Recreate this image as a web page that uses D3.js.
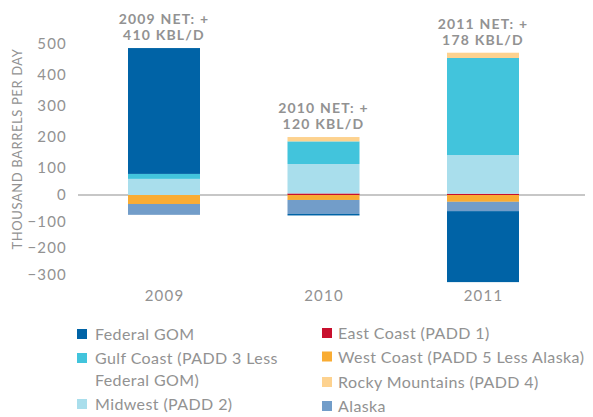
<!DOCTYPE html>
<html>
<head>
<meta charset="utf-8">
<script src="https://cdn.jsdelivr.net/npm/d3@7"></script>
<style>
  html, body { margin: 0; padding: 0; background: #fff; }
  svg { display: block; font-family: Lato, "Open Sans", sans-serif; }
</style>
</head>
<body>
<svg id="chart" width="593" height="417"></svg>
<script>
// ---- data ----
const years = ["2009", "2010", "2011"];
const seriesNames = [
  "East Coast (PADD 1)",
  "West Coast (PADD 5 Less Alaska)",
  "Midwest (PADD 2)",
  "Alaska",
  "Gulf Coast (PADD 3 Less Federal GOM)",
  "Federal GOM",
  "Rocky Mountains (PADD 4)"
];
const eastCoast = [0, 5, 4];
const westCoast = [-29, -16, -22];
const midwest = [52, 95, 125];
const alaska = [-35, -45, -30];
const gulfCoast = [16, 73, 313];
const federalGOM = [406, -5, -229];
const rockyMountains = [0, 14, 17];
const netLabels = [["2009 NET: +", "410 KBL/D"], ["2010 NET: +", "120 KBL/D"], ["2011 NET: +", "178 KBL/D"]];
const yTicks = [500, 400, 300, 200, 100, 0, -100, -200, -300];
const colors = ["#C8102E", "#F9AC33", "#A9DEEC", "#729DC9", "#42C4DC", "#0063A6", "#FDD28F"];

// legend layout groups (left column, right column)
const legendLeft = [
  { name: "Federal GOM", lines: ["Federal GOM"] },
  { name: "Gulf Coast (PADD 3 Less Federal GOM)", lines: ["Gulf Coast (PADD 3 Less", "Federal GOM)"] },
  { name: "Midwest (PADD 2)", lines: ["Midwest (PADD 2)"] }
];
const legendRight = [
  { name: "East Coast (PADD 1)", lines: ["East Coast (PADD 1)"] },
  { name: "West Coast (PADD 5 Less Alaska)", lines: ["West Coast (PADD 5 Less Alaska)"] },
  { name: "Rocky Mountains (PADD 4)", lines: ["Rocky Mountains (PADD 4)"] },
  { name: "Alaska", lines: ["Alaska"] }
];

const seriesValues = [eastCoast, westCoast, midwest, alaska, gulfCoast, federalGOM, rockyMountains];
const table = years.map((yr, i) => {
  const row = { year: yr };
  seriesNames.forEach((n, j) => row[n] = seriesValues[j][i]);
  return row;
});

const svg = d3.select("#chart");
const textColor = "#929292";

const x = d3.scalePoint().domain(years).range([164, 483]);
const barW = 72;
const y = d3.scaleLinear().domain([-300, 500]).range([195 + 300 * 0.31, 195 - 500 * 0.31]);
// axis label placement as in the reference
const yAxisScale = d3.scaleLinear().domain([-300, 0, 100, 500]).range([275, 194.5, 168, 44]);

const color = d3.scaleOrdinal().domain(seriesNames).range(colors);

const stack = d3.stack().keys(seriesNames).offset(d3.stackOffsetDiverging);
const stacked = stack(table);

// zero line
svg.append("line")
  .attr("x1", 78).attr("x2", 585)
  .attr("y1", y(0)).attr("y2", y(0))
  .attr("stroke", "#b5b5b5").attr("stroke-width", 1.5);

// bars
svg.append("g").selectAll("g")
  .data(stacked)
  .join("g")
  .attr("fill", d => color(d.key))
  .selectAll("rect")
  .data(d => d)
  .join("rect")
  .attr("x", d => x(d.data.year) - barW / 2)
  .attr("width", barW)
  .attr("y", d => y(Math.max(d[0], d[1])))
  .attr("height", d => Math.abs(y(d[0]) - y(d[1])));

// y axis (labels only)
const yAxis = svg.append("g")
  .attr("transform", "translate(67,0)")
  .call(d3.axisLeft(yAxisScale).tickValues(yTicks).tickSize(0).tickPadding(0).tickFormat(d3.format("d")));
yAxis.select(".domain").remove();
yAxis.selectAll("text")
  .attr("fill", textColor)
  .style("font-size", "15px")
  .style("letter-spacing", "1.2px")
  .style("font-family", "Lato, sans-serif");

// y title
svg.append("text")
  .attr("transform", "translate(22,149) rotate(-90)")
  .attr("text-anchor", "middle")
  .attr("fill", textColor)
  .style("font-size", "13px")
  .style("letter-spacing", "0.6px")
  .text("THOUSAND BARRELS PER DAY");

// x axis labels
const xAxis = svg.append("g")
  .attr("transform", "translate(0,290)")
  .call(d3.axisBottom(x).tickSize(0).tickPadding(0));
xAxis.select(".domain").remove();
xAxis.selectAll("text")
  .attr("fill", textColor)
  .style("font-size", "15px")
  .style("letter-spacing", "1.2px")
  .style("font-family", "Lato, sans-serif");

// net labels
const tops = years.map((yr, i) => d3.max(stacked, s => Math.max(s[i][0], s[i][1])));
const net = svg.append("g");
years.forEach((yr, i) => {
  const t = net.append("text")
    .attr("x", x(yr))
    .attr("y", y(tops[i]) - 24)
    .attr("text-anchor", "middle")
    .attr("fill", textColor)
    .style("font-size", "14px")
    .style("font-weight", "bold")
    .style("letter-spacing", "1.2px");
  netLabels[i].forEach((ln, k) => {
    t.append("tspan").attr("x", x(yr)).attr("dy", k === 0 ? 0 : 16).text(ln);
  });
});

// legend
function drawLegend(items, sqX, textX, rowYs) {
  const g = svg.append("g");
  items.forEach((it, i) => {
    const cy = rowYs[i];
    g.append("rect")
      .attr("x", sqX).attr("y", cy - 5)
      .attr("width", 10).attr("height", 10)
      .attr("fill", color(it.name));
    const t = g.append("text")
      .attr("x", textX).attr("y", cy + 6)
      .attr("fill", textColor)
      .style("font-size", "16px")
      .style("letter-spacing", "0.4px");
    it.lines.forEach((ln, k) => {
      t.append("tspan").attr("x", textX).attr("dy", k === 0 ? 0 : 22).text(ln);
    });
  });
}
drawLegend(legendLeft, 77, 95, [334, 358, 404]);
drawLegend(legendRight, 322, 338, [333, 356.5, 382, 406]);
</script>
</body>
</html>
